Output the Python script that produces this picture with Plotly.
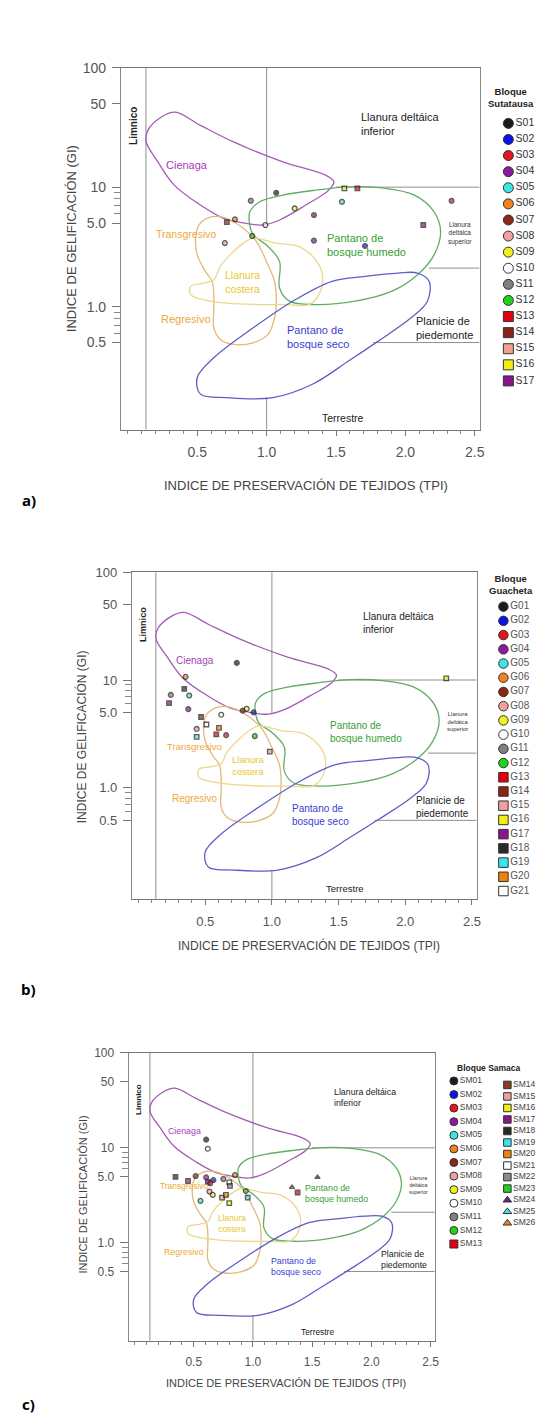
import math
import plotly.graph_objects as go

W, H = 544, 1416
FONT = "Liberation Sans, Arial, sans-serif"

# ---------------- diagram frame (TPI / GI values) ----------------
TPI_RANGE = [-0.05, 2.535]
GI_RANGE = [0.0933, 100]
GI_TICKS = [0.5, 1, 5, 10, 50, 100]
GI_TICKTEXT = ["0.5", "1.0", "5.0", "10", "50", "100"]
GI_MINOR = [0.6, 0.7, 0.8, 0.9, 6, 7, 8, 9]
TPI_TICKS = [0.5, 1.0, 1.5, 2.0, 2.5]
TPI_TICKTEXT = ["0.5", "1.0", "1.5", "2.0", "2.5"]

# boundary lines of the facies fields
BOUND_TPI = [0.13, 0.13, None, 1.0, 1.0, None, 1.0, 1.0, None, 1.5, 2.535, None, 2.17, 2.535, None, 1.77, 2.535]
BOUND_GI = [100, 0.0933, None, 100, 4.8, None, 0.174, 0.0933, None, 10, 10, None, 2.1, 2.1, None, 0.5, 0.5]

# ---------------- environment fields (closed contours) ----------------
CIENAGA_TPI = [0.34, 0.523, 0.761, 1.117, 1.425, 1.484, 1.448, 1.282, 1.093, 0.974, 0.808, 0.69, 0.523, 0.334, 0.216, 0.132, 0.144, 0.239, 0.34]
CIENAGA_GI = [42.4, 32.9, 23.9, 16.3, 12.6, 11.1, 9.44, 7.08, 5.31, 4.82, 5.08, 5.48, 7.08, 10.4, 16.3, 23.9, 29.9, 38.5, 42.4]

HUMEDO_TPI = [0.879, 0.95, 1.117, 1.353, 1.59, 1.828, 2.065, 2.207, 2.254, 2.207, 2.088, 1.899, 1.638, 1.353, 1.164, 1.093, 1.093, 0.997, 0.903, 0.875, 0.879]
HUMEDO_GI = [6.22, 7.55, 8.58, 9.44, 10.07, 9.87, 8.58, 6.22, 4.24, 2.71, 1.85, 1.34, 1.11, 1.04, 1.11, 1.43, 2.39, 3.29, 3.98, 5.14, 6.22]

TRANSG_TPI = [0.583, 0.512, 0.488, 0.5, 0.559, 0.607, 0.619, 0.619, 0.619, 0.666, 0.761, 0.903, 1.01, 1.057, 1.069, 1.057, 0.998, 0.927, 0.832, 0.737, 0.666, 0.583]
TRANSG_GI = [5.55, 4.82, 3.74, 2.71, 1.97, 1.63, 1.26, 0.914, 0.664, 0.531, 0.482, 0.498, 0.585, 0.805, 1.11, 1.63, 2.39, 3.5, 4.53, 5.31, 5.66, 5.55]

COSTERA_TPI = [0.903, 1.069, 1.235, 1.353, 1.401, 1.377, 1.306, 1.14, 0.95, 0.713, 0.548, 0.452, 0.452, 0.548, 0.619, 0.666, 0.737, 0.832, 0.903]
COSTERA_GI = [3.74, 3.4, 3.18, 2.46, 1.85, 1.26, 1.04, 1.04, 1.04, 1.07, 1.14, 1.26, 1.48, 1.57, 1.68, 2.17, 2.71, 3.4, 3.74]

SECO_TPI = [2.088, 2.171, 2.159, 2.041, 1.804, 1.59, 1.33, 1.045, 0.713, 0.523, 0.5, 0.619, 0.903, 1.188, 1.472, 1.709, 1.946, 2.088]
SECO_GI = [1.91, 1.63, 1.11, 0.805, 0.514, 0.35, 0.224, 0.173, 0.173, 0.185, 0.255, 0.373, 0.664, 1.11, 1.63, 1.79, 1.91, 1.91]

# ---------------- legend categories ----------------
SUT_IDS = ["S01", "S02", "S03", "S04", "S05", "S06", "S07", "S08", "S09", "S10", "S11", "S12", "S13", "S14", "S15", "S16", "S17"]
SUT_COLORS = ["#1a1a1a", "#0a14e6", "#e6141e", "#8c1aa0", "#3ce6e6", "#f0821e", "#8c2814", "#f0a0a0", "#f0f01e", "#ffffff", "#808080", "#1ed21e",
              "#e6000f", "#8c2319", "#f0a08c", "#f0f00f", "#8c148c"]
SUT_SYMBOLS = ["circle"] * 12 + ["square"] * 5

GUA_IDS = ["G01", "G02", "G03", "G04", "G05", "G06", "G07", "G08", "G09", "G10", "G11", "G12", "G13", "G14", "G15", "G16", "G17", "G18", "G19", "G20", "G21"]
GUA_COLORS = ["#1a1a1a", "#0a14e6", "#e6141e", "#8c1aa0", "#3ce6e6", "#f0821e", "#8c2814", "#f0a0a0", "#f0f01e", "#ffffff", "#808080", "#1ed21e",
              "#e6000f", "#8c2319", "#f0a0a0", "#f0f00f", "#8c148c", "#2a2a2a", "#3ce6f0", "#f0820a", "#ffffff"]
GUA_SYMBOLS = ["circle"] * 12 + ["square"] * 9

SAM_IDS_1 = ["SM01", "SM02", "SM03", "SM04", "SM05", "SM06", "SM07", "SM08", "SM09", "SM10", "SM11", "SM12", "SM13"]
SAM_COLORS_1 = ["#1a1a1a", "#0a14e6", "#e6141e", "#8c1aa0", "#3ce6e6", "#f0821e", "#8c2814", "#f0a0a0", "#f0f01e", "#ffffff", "#808080", "#1ed21e", "#e6000f"]
SAM_SYMBOLS_1 = ["circle"] * 12 + ["square"]
SAM_IDS_2 = ["SM14", "SM15", "SM16", "SM17", "SM18", "SM19", "SM20", "SM21", "SM22", "SM23", "SM24", "SM25", "SM26"]
SAM_COLORS_2 = ["#8c3c1e", "#f0a0a0", "#f0f00f", "#8c148c", "#2a2a2a", "#3ce6f0", "#f0820a", "#ffffff", "#8c8c8c", "#1ed21e", "#6e1e8c", "#3ce6e6", "#f0821e"]
SAM_SYMBOLS_2 = ["square"] * 10 + ["triangle-up"] * 3

# ---------------- samples (TPI, GI) ----------------
SUT_PT_ID = ["S14", "S06", "S11", "S01", "S09", "S07", "S10", "S12", "S08", "S04", "S16", "S13", "S05", "S02", "S17", "S03"]
SUT_TPI = [0.713, 0.771, 0.886, 1.069, 1.202, 1.341, 0.991, 0.896, 0.699, 1.341, 1.56, 1.654, 1.543, 1.709, 2.129, 2.333]
SUT_GI = [5.1, 5.38, 7.69, 8.97, 6.64, 5.84, 4.82, 3.9, 3.4, 3.57, 9.76, 9.76, 7.55, 3.22, 4.82, 7.69]

GUA_PT_ID = ["G01", "G06", "G18", "G11", "G05", "G17", "G04", "G07", "G09", "G02", "G10", "G14", "G21", "G20", "G08", "G13", "G03", "G19", "G12", "G15", "G16"]
GUA_TPI = [0.737, 0.353, 0.343, 0.242, 0.380, 0.229, 0.373, 0.781, 0.811, 0.863, 0.62, 0.469, 0.509, 0.603, 0.436, 0.583, 0.657, 0.436, 0.872, 0.984, 2.307]
GUA_GI = [14.4, 10.7, 8.27, 7.28, 7.18, 6.1, 5.37, 5.2, 5.42, 5.01, 4.77, 4.54, 3.87, 3.6, 3.52, 3.13, 3.08, 2.97, 3.02, 2.17, 10.35]

SAM_PT_ID = ["SM01", "SM10", "SM18", "SM14", "SM07", "SM04", "SM17", "SM02", "SM03", "SM11", "SM06", "SM21", "SM22", "SM08", "SM09", "SM15",
             "SM20", "SM05", "SM16", "SM12", "SM19", "SM26", "SM13", "SM24"]
SAM_TPI = [0.605, 0.619, 0.346, 0.452, 0.516, 0.605, 0.619, 0.666, 0.639, 0.75, 0.848, 0.8, 0.806, 0.633, 0.661, 0.739,
           0.772, 0.557, 0.8, 0.94, 0.956, 1.33, 1.377, 1.545]
SAM_GI = [12.2, 9.8, 4.96, 4.48, 5.05, 4.9, 4.37, 4.58, 4.24, 4.7, 5.17, 4.34, 3.97, 3.47, 3.2, 3.0,
          3.2, 2.77, 2.62, 3.52, 3.0, 3.85, 3.39, 4.9]

# ---------------- texts ----------------
AXIS_X_TITLE = "INDICE DE PRESERVACIÓN DE TEJIDOS (TPI)"
AXIS_Y_TITLE = "INDICE DE GELIFICACIÓN (GI)"
PANEL_TAGS = ["a)", "b)", "c)"]
LEGEND_TITLES = ["Bloque<br>Sutatausa", "Bloque<br>Guacheta", "Bloque Samaca"]

# region labels: text, TPI, GI, colour, base size, xanchor, angle, bold
REGION_LABELS = [
    ("Limno - Telmático", 0.523, 121.6, "#222222", 10.5, "center", 0, False),
    ("Telmático", 1.448, 121.6, "#222222", 10.5, "center", 0, False),
    ("Limnico", 0.035, 32.4, "#222222", 10, "center", -90, True),
    ("Llanura deltáica<br>inferior", 1.669, 34.1, "#222222", 11, "left", 0, False),
    ("Llanura<br>deltáica<br>superior", 2.397, 4.11, "#333333", 6.5, "center", 0, False),
    ("Planicie de<br>piedemonte", 2.065, 0.665, "#222222", 11, "left", 0, False),
    ("Terrestre", 1.548, 0.116, "#222222", 10.5, "center", 0, False),
    ("Cienaga", 0.424, 15.2, "#a83cb8", 11, "center", 0, False),
    ("Transgresivo", 0.417, 4.06, "#eea83a", 10.5, "center", 0, False),
    ("Llanura<br>costera", 0.825, 1.6, "#e8c82a", 10.5, "center", 0, False),
    ("Regresivo", 0.422, 0.794, "#eea83a", 11, "center", 0, False),
    ("Pantano de<br>bosque humedo", 1.42, 3.29, "#35a035", 11, "left", 0, False),
    ("Pantano de<br>bosque seco", 1.133, 0.558, "#3c3cd2", 11, "left", 0, False),
]
# panel b places "Transgresivo" lower
TRANSG_GI_PANEL = [4.06, 2.44, 3.97]

# ---------------- layout geometry (pixels) ----------------
# left, right, top, bottom of each plot area, font scale, tick font size
PANEL_BOX = [(114, 476, 52, 416, 1.0, 14), (125, 473, 559.3, 888, 0.91, 13), (121.7, 430.7, 1042.7, 1332.3, 0.8, 12)]
YTITLE_POS = [(64, 224, 13), (75, 725, 12), (76, 1185, 11)]
XTITLE_POS = [(301, 472, 13), (304, 935, 12), (281, 1375, 11)]
TAG_POS = [(21, 487), (21, 979), (21, 1396)]
LEGTITLE_POS = [(508, 82, 9.5), (508, 572, 9.5), (485, 1058, 8.5)]

CONTOURS = [
    (CIENAGA_TPI, CIENAGA_GI, "#a55bb5"),
    (HUMEDO_TPI, HUMEDO_GI, "#62ad62"),
    (TRANSG_TPI, TRANSG_GI, "#e3b878"),
    (COSTERA_TPI, COSTERA_GI, "#ecd88c"),
    (SECO_TPI, SECO_GI, "#5d5dc8"),
]

fig = go.Figure()

def ax_names(k):
    s = "" if k == 1 else str(k)
    return "x" + s, "y" + s, "xaxis" + s, "yaxis" + s

samples = [(SUT_PT_ID, SUT_TPI, SUT_GI), (GUA_PT_ID, GUA_TPI, GUA_GI), (SAM_PT_ID, SAM_TPI, SAM_GI)]
style_maps = [
    dict(zip(SUT_IDS, zip(SUT_COLORS, SUT_SYMBOLS))),
    dict(zip(GUA_IDS, zip(GUA_COLORS, GUA_SYMBOLS))),
    dict(zip(SAM_IDS_1 + SAM_IDS_2, zip(SAM_COLORS_1 + SAM_COLORS_2, SAM_SYMBOLS_1 + SAM_SYMBOLS_2))),
]

annotations = []
layout_axes = {}

for i, (left, right, top, bottom, sc, tfs) in enumerate(PANEL_BOX):
    xr, yr, xk, yk = ax_names(i + 1)
    layout_axes[xk] = dict(
        domain=[left / W, right / W], range=TPI_RANGE, anchor=yr,
        tickvals=TPI_TICKS, ticktext=TPI_TICKTEXT, ticks="outside", ticklen=5, tickcolor="#777",
        ticklabelstandoff=5,
        minor=dict(dtick=0.1, tick0=0, ticks="outside", ticklen=3, tickcolor="#888"),
        showline=True, linecolor="#777", linewidth=1, mirror=True,
        showgrid=False, zeroline=False, tickfont=dict(family=FONT, size=tfs, color="#555"),
    )
    layout_axes[yk] = dict(
        domain=[1 - bottom / H, 1 - top / H], type="log",
        range=[math.log10(GI_RANGE[0]), math.log10(GI_RANGE[1])], anchor=xr,
        tickvals=GI_TICKS, ticktext=GI_TICKTEXT, ticks="outside", ticklen=8, tickcolor="#777",
        ticklabelstandoff=3,
        minor=dict(tickmode="array", tickvals=GI_MINOR, ticks="outside", ticklen=6, tickcolor="#888"),
        showline=True, linecolor="#888", linewidth=1, mirror=True,
        showgrid=False, zeroline=False, tickfont=dict(family=FONT, size=tfs, color="#555"),
    )
    # boundary lines
    fig.add_trace(go.Scatter(x=BOUND_TPI, y=BOUND_GI, mode="lines", xaxis=xr, yaxis=yr,
                             line=dict(color="#8f8f8f", width=1), showlegend=False, hoverinfo="skip"))
    # environment contours
    for cx, cy, col in CONTOURS:
        fig.add_trace(go.Scatter(x=cx, y=cy, mode="lines", xaxis=xr, yaxis=yr,
                                 line=dict(color=col, width=1.3, shape="spline", smoothing=1.0),
                                 showlegend=False, hoverinfo="skip"))
    # samples
    ids, tpi, gi = samples[i]
    smap = style_maps[i]
    fig.add_trace(go.Scatter(
        x=tpi, y=gi, mode="markers", xaxis=xr, yaxis=yr, text=ids, showlegend=False,
        marker=dict(size=[4.8 if smap[k][1] == "circle" else 4.5 for k in ids],
                    color=[smap[k][0] for k in ids], symbol=[smap[k][1] for k in ids],
                    line=dict(color="#1a1a1a", width=1.3)),
    ))
    # region labels
    for (txt, tx, gy, col, fs, xa, ang, bold) in REGION_LABELS:
        if txt == "Transgresivo":
            gy = TRANSG_GI_PANEL[i]
        annotations.append(dict(text=("<b>%s</b>" % txt) if bold else txt, x=tx, y=math.log10(gy),
                                xref=xr, yref=yr, showarrow=False,
                                xanchor=xa, yanchor="middle", align=xa,
                                textangle=ang, font=dict(family=FONT, size=fs * sc, color=col)))
    # axis titles
    yx, yy, yfs = YTITLE_POS[i]
    annotations.append(dict(text=AXIS_Y_TITLE, x=yx / W, y=1 - yy / H, xref="paper", yref="paper",
                            showarrow=False, textangle=-90, xanchor="center", yanchor="middle",
                            font=dict(family=FONT, size=yfs, color="#444")))
    xx, xy, xfs = XTITLE_POS[i]
    annotations.append(dict(text=AXIS_X_TITLE, x=xx / W, y=1 - xy / H, xref="paper", yref="paper",
                            showarrow=False, xanchor="center", yanchor="middle",
                            font=dict(family=FONT, size=xfs, color="#444")))
    # panel tag
    tx_, ty_ = TAG_POS[i]
    annotations.append(dict(text="<b>" + PANEL_TAGS[i] + "</b>", x=tx_ / W, y=1 - ty_ / H, xref="paper", yref="paper",
                            showarrow=False, xanchor="center", yanchor="middle",
                            font=dict(family="Open Sans, sans-serif", size=15, color="#000")))
    # legend title
    lx, ly, lfs = LEGTITLE_POS[i]
    annotations.append(dict(text="<b>" + LEGEND_TITLES[i] + "</b>", x=lx / W, y=1 - ly / H, xref="paper", yref="paper",
                            showarrow=False, xanchor="center", yanchor="middle",
                            font=dict(family=FONT, size=lfs, color="#222")))

# ---------------- custom legends (index-based axes) ----------------
LEGENDS = [
    # ids, colors, symbols, marker x px, first y px, last y px, marker size, font size, text colour
    (SUT_IDS, SUT_COLORS, SUT_SYMBOLS, 505, 108, 367, 10, 10.5, "#333"),
    (GUA_IDS, GUA_COLORS, GUA_SYMBOLS, 500, 594, 880, 9.5, 10, "#555"),
    (SAM_IDS_1, SAM_COLORS_1, SAM_SYMBOLS_1, 450, 1071, 1235, 8, 8.5, "#444"),
    (SAM_IDS_2, SAM_COLORS_2, SAM_SYMBOLS_2, 504, 1075, 1214, 7.5, 8.5, "#444"),
]
for j, (ids, cols, syms, mx, yf, yl, msz, fsz, tcol) in enumerate(LEGENDS):
    k = 4 + j
    xr, yr, xk, yk = ax_names(k)
    n = len(ids)
    u = (yl - yf) / (n - 1)
    layout_axes[xk] = dict(domain=[(mx - 10) / W, min(1.0, (mx + 30) / W)], range=[-1, 3],
                           visible=False, anchor=yr, fixedrange=True)
    layout_axes[yk] = dict(domain=[1 - (yl + u / 2) / H, 1 - (yf - u / 2) / H], range=[n - 0.5, -0.5],
                           visible=False, anchor=xr, fixedrange=True)
    fig.add_trace(go.Scatter(
        x=[0] * n, y=list(range(n)), mode="markers+text", text=ids, textposition="middle right",
        xaxis=xr, yaxis=yr, showlegend=False, cliponaxis=False, hoverinfo="text",
        textfont=dict(family=FONT, size=fsz, color=tcol),
        marker=dict(size=msz, color=cols, symbol=syms, line=dict(color="#333", width=1)),
    ))

fig.update_layout(
    width=W, height=H, margin=dict(l=0, r=0, t=0, b=0),
    paper_bgcolor="white", plot_bgcolor="white", showlegend=False,
    annotations=annotations, **layout_axes,
)

fig.write_html("out.html")
